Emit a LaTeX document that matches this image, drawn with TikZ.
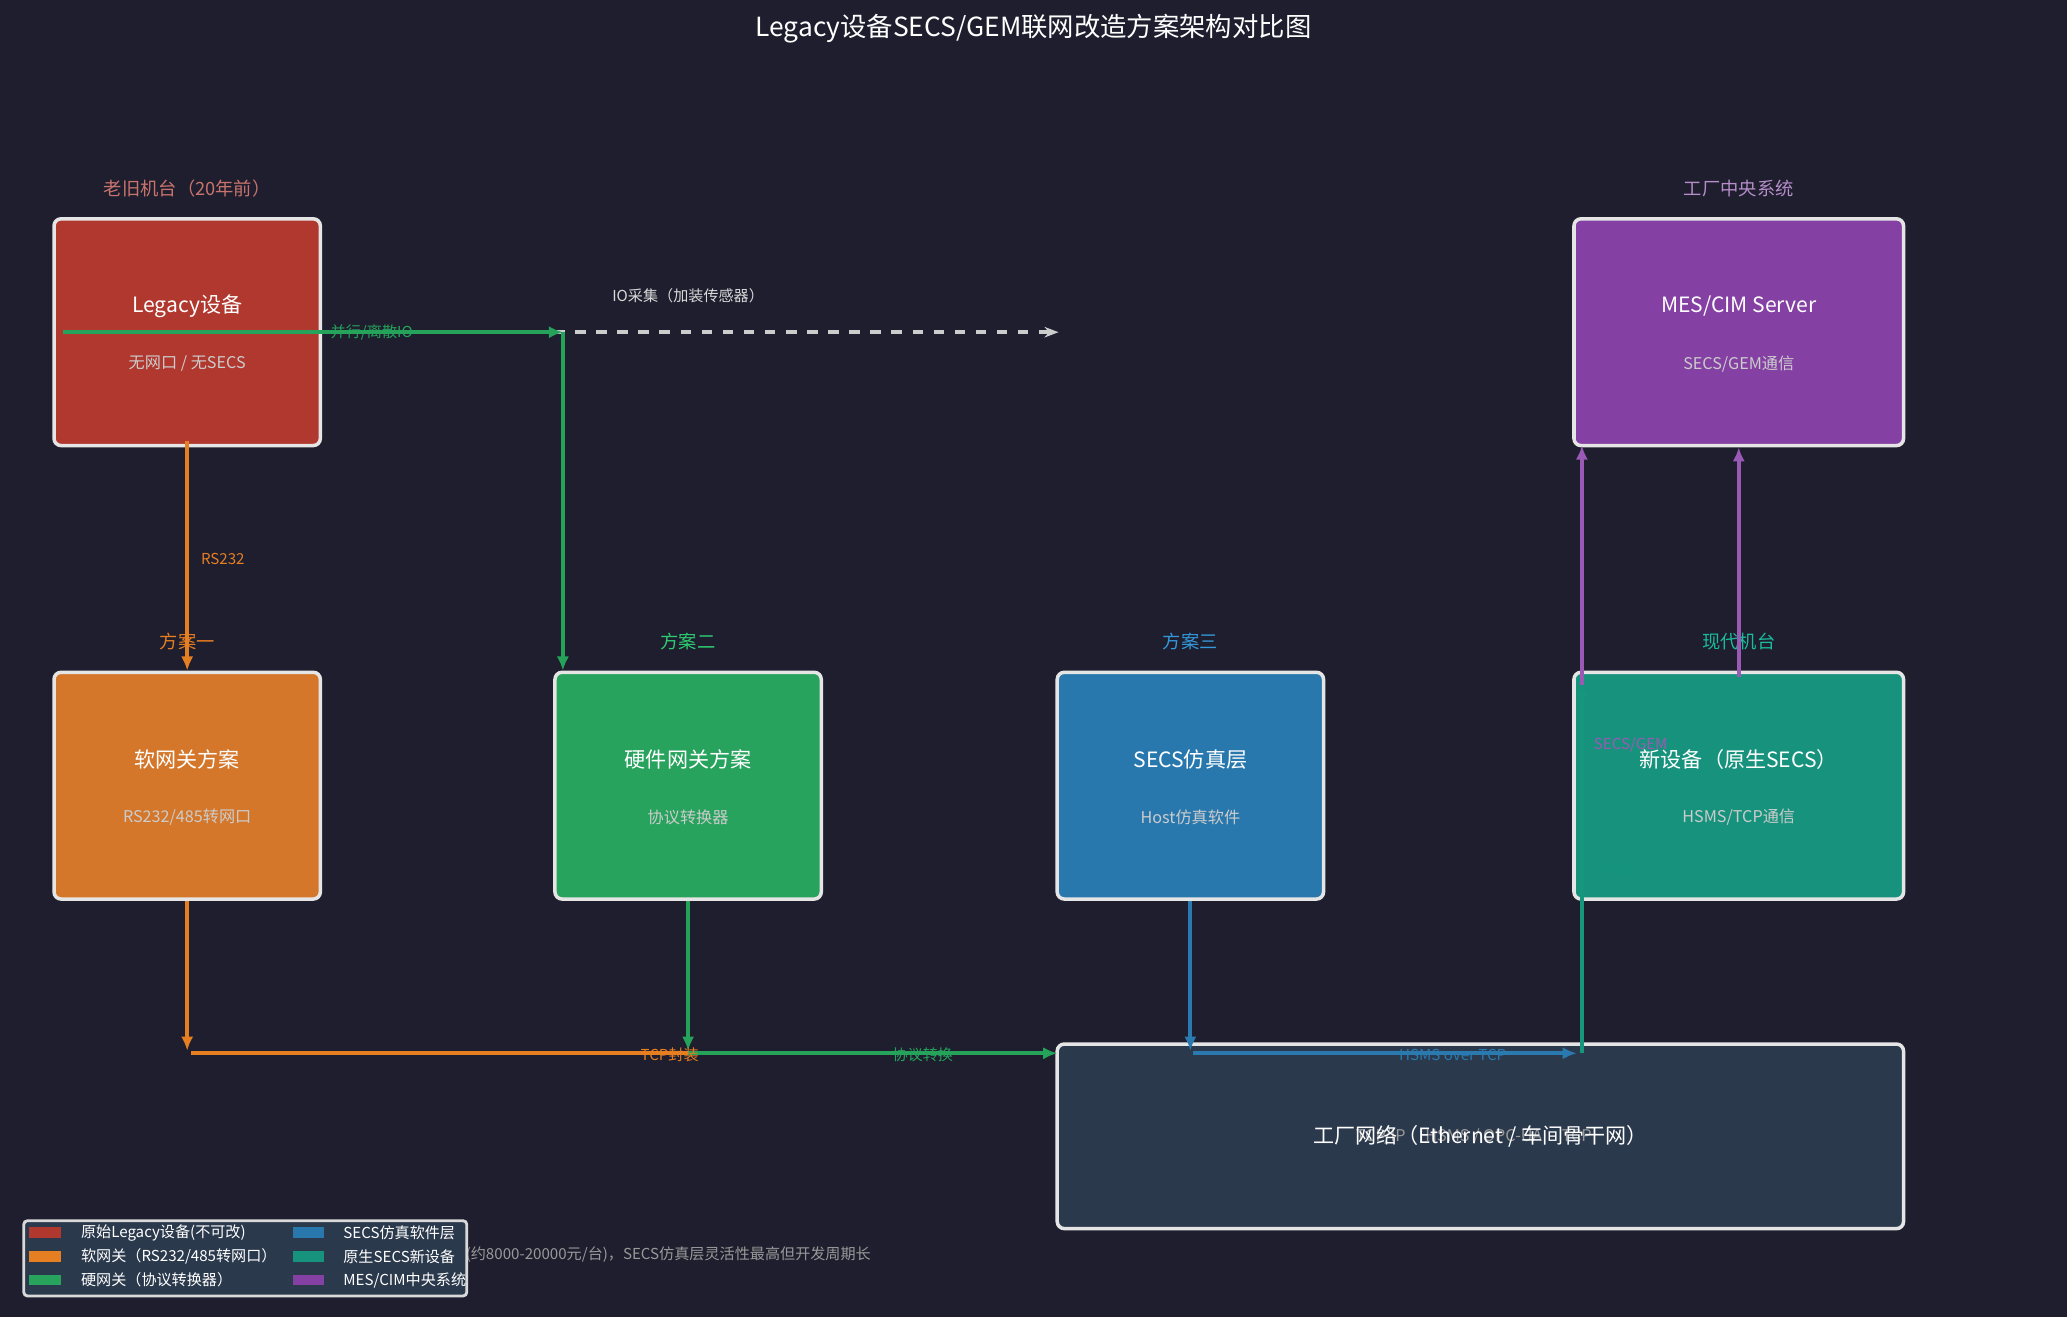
\documentclass[tikz,border=0pt]{standalone}
\usepackage{fontspec}
\setmainfont{Noto Sans CJK SC}
\usetikzlibrary{calc,arrows.meta,positioning}
\definecolor{bgc}{HTML}{1E1E2E}
\definecolor{legc}{HTML}{B0382E}
\definecolor{softc}{HTML}{D4772A}
\definecolor{hardc}{HTML}{27A35E}
\definecolor{simc}{HTML}{2878AE}
\definecolor{newc}{HTML}{17937D}
\definecolor{mesc}{HTML}{8441A3}
\definecolor{netc}{HTML}{2B394D}
\definecolor{lorange}{HTML}{E67E22}
\definecolor{lgreen}{HTML}{2ECC71}
\definecolor{lblue}{HTML}{3498DB}
\definecolor{lteal}{HTML}{1ABC9C}
\definecolor{lpurple}{HTML}{9B59B6}
\begin{document}
\begin{tikzpicture} [x=0.013182cm, y=-0.013182cm,
    >=Latex,
    very thick,
    every node/.style={font={\fontsize{4.5}{5}\selectfont}, text=white},
    main node/.style={rectangle, rounded corners=2pt, draw=white!90!black,
        line width=1pt, minimum width=202*0.013182cm, minimum height=172*0.013182cm},
    box title/.style={font={\fontsize{6}{7}\selectfont}},
    box sub/.style={font={\fontsize{4.6}{5}\selectfont}, text=white!80!black},
    group/.style={font={\fontsize{5.2}{6}\selectfont}},
    link/.style={line width=1.2pt, -{Latex[length=4pt,width=3.5pt]}},
    tag/.style={font={\fontsize{4.3}{5}\selectfont}}
  ]
  \fill[bgc] (0,0) rectangle (1568,999);
  \useasboundingbox (0,0) rectangle (1568,999);

  \node[font={\fontsize{7.5}{9}\selectfont}] (title) at (784,22) {Legacy设备SECS/GEM联网改造方案架构对比图};

  % top row
  \node [main node, fill=legc] (legacy) at (142,252) {};
  \node [box title] at (142,232) {Legacy设备};
  \node [box sub] at (142,276) {无网口 / 无SECS};
  \node [group, text=legc!70!white] at (142,143) {老旧机台（20年前）};

  \node [main node, fill=mesc, minimum width=250*0.013182cm] (mes) at (1319,252) {};
  \node [box title] at (1319,232) {MES/CIM Server};
  \node [box sub] at (1319,276) {SECS/GEM通信};
  \node [group, text=mesc!60!white] at (1319,143) {工厂中央系统};

  % second row
  \node [main node, fill=softc] (soft) at (142,596) {};
  \node [box title] at (142,576) {软网关方案};
  \node [box sub] at (142,620) {RS232/485转网口};
  \node [group, text=lorange] at (142,487) {方案一};

  \node [main node, fill=hardc] (hard) at (522,596) {};
  \node [box title] at (522,576) {硬件网关方案};
  \node [box sub] at (522,620) {协议转换器};
  \node [group, text=lgreen] at (522,487) {方案二};

  \node [main node, fill=simc] (sim) at (903,596) {};
  \node [box title] at (903,576) {SECS仿真层};
  \node [box sub] at (903,620) {Host仿真软件};
  \node [group, text=lblue] at (903,487) {方案三};

  \node [main node, fill=newc, minimum width=250*0.013182cm] (newdev) at (1319,596) {};
  \node [box title] at (1319,576) {新设备（原生SECS）};
  \node [box sub] at (1319,620) {HSMS/TCP通信};
  \node [group, text=lteal] at (1319,487) {现代机台};

  % network
  \node [main node, fill=netc, minimum width=642*0.013182cm, minimum height=140*0.013182cm] (net) at (1123,862) {};
  \node [box sub, text=white!60!black] at (1118,862) {TCP/IP \quad HSMS / OPC-UA \quad TCP};
  \node [box title] at (1123,862) {工厂网络（Ethernet / 车间骨干网）};

  % coordinates
  \coordinate (ioA) at (48,252);
  \coordinate (ioB) at (427,252);
  \coordinate (ioEnd) at (803,252);
  \coordinate (softEnd) at (142,797);
  \coordinate (busA) at (145,799);
  \coordinate (busB) at (522,799);
  \coordinate (hardEnd) at (522,797);
  \coordinate (busC) at (802,799);
  \coordinate (simEnd) at (903,797);
  \coordinate (busD) at (905,799);
  \coordinate (busE) at (1196,799);
  \coordinate (tealTop) at (1200,518);
  \coordinate (mesL) at (1200,338);

  % links
  \draw [white!80!black, dashed, line width=1.2pt, -{Stealth[length=4pt]}] (legacy.east |- ioA) -- (ioEnd);
  \draw [link, lgreen!80!black] (ioA) -- (ioB);
  \draw [link, lgreen!80!black] (ioB) -- (hard.north -| ioB);
  \node [tag, text=lgreen!80!black] at (282,252) {并行/离散IO};
  \node [tag, text=white!85!black] at (522,224) {IO采集（加装传感器）};

  \draw [link, lorange] ($(legacy.south)+(0,-5)$) -- (soft.north);
  \node [tag, text=lorange] at (169,424) {RS232};
  \draw [link, lorange] (soft.south) -- (softEnd);
  \draw [lorange, line width=1.2pt] (busA) -- (busB);
  \draw [link, lgreen!80!black] (hard.south) -- (hardEnd);
  \draw [link, lgreen!80!black] (busB) -- (busC);
  \node [tag, text=lorange] at (508,800) {TCP封装};
  \node [tag, text=lgreen!80!black] at (700,800) {协议转换};

  \draw [link, lblue!80!black] (sim.south) -- (simEnd);
  \draw [link, lblue!80!black] (busD) -- (busE);
  \node [tag, text=lblue!80!black] at (1102,800) {HSMS over TCP};

  \draw [link, lteal!80!black] (busE -| tealTop) -- (tealTop);
  \node [tag, text=lteal!80!black] at (1223,659) {HSMS};
  \draw [link, lpurple] ($(tealTop)+(0,2)$) -- (mesL);
  \node [tag, text=lpurple] at (1237,565) {SECS/GEM};
  \draw [link, lpurple] ($(newdev.north)+(0,5)$) -- (mes.south);

  % footnote and legend
  \node [tag, text=white!60!black, anchor=west] (note) at (35,952) {注：软网关成本最低(约2000-5000元/台)，硬网关稳定性更好(约8000-20000元/台)，SECS仿真层灵活性最高但开发周期长};
  \node [rectangle, rounded corners=1pt, draw=white!85!black, line width=0.8pt, fill=netc,
    minimum width=336*0.013182cm, minimum height=57*0.013182cm, anchor=north west] (legend) at (17,925) {};
  \foreach \y/\c/\t in {935/legc/{原始Legacy设备(不可改)}, 953/lorange/{软网关（RS232/485转网口）}, 971/hardc/{硬网关（协议转换器）}}
    \fill[\c] (22,\y-4) rectangle (46,\y+4) node[tag, anchor=west, text=white] at (51,\y) {\t};
  \foreach \y/\c/\t in {935/simc/{SECS仿真软件层}, 953/newc/{原生SECS新设备}, 971/mesc/{MES/CIM中央系统}}
    \fill[\c] (222,\y-4) rectangle (246,\y+4) node[tag, anchor=west, text=white] at (250,\y) {\t};

\end{tikzpicture}
\end{document}
